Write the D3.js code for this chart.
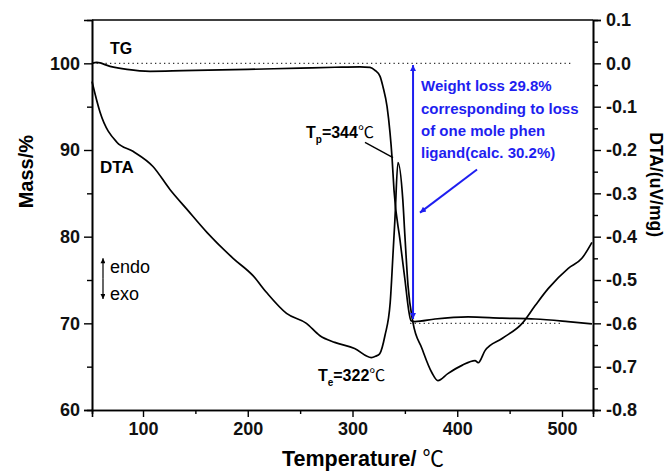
<!DOCTYPE html>
<html>
<head>
<meta charset="utf-8">
<script src="https://cdn.jsdelivr.net/npm/d3@7"></script>
<style>
  body { margin: 0; background: #fff; }
  svg text { font-family: "Liberation Sans", Arial, sans-serif; }
</style>
</head>
<body>
<svg id="chart"></svg>
<script>
//// DATA

// TG curve (mass %, left axis)
const tgTemp = [51.3, 55.9, 68.5, 84.7, 106.7, 138.2, 200, 250, 283.3, 307, 316.7, 321.5, 326.3, 329.1, 333, 335.8, 337.7, 339.6, 345.3, 350.1, 353.9, 355.8, 359.6, 378.8, 410.3, 442.7, 474.2, 505.7, 528.6];
const tgMass = [100, 100.1, 99.65, 99.3, 99.08, 99.15, 99.3, 99.45, 99.55, 99.6, 99.54, 99.2, 98.5, 97.3, 95.0, 92.0, 89.2, 85.4, 79.65, 75.0, 71.3, 70.3, 70.2, 70.5, 70.75, 70.6, 70.5, 70.2, 69.94];

// DTA curve (uV/mg, right axis)
const dtaTemp = [51.3, 59, 75, 90.4, 109.5, 125.7, 142, 161, 186, 205, 218, 237, 256, 268.6, 283, 302, 318, 322, 326, 331, 336, 338.6, 340.5, 343.4, 348, 350, 353, 357.7, 366.3, 375.8, 381.5, 391, 404.5, 417, 420, 426.5, 442.8, 462, 474.4, 486.8, 506, 519, 528.6];
const dtaValue = [-0.042, -0.113, -0.182, -0.203, -0.238, -0.291, -0.337, -0.39, -0.45, -0.49, -0.529, -0.577, -0.6, -0.628, -0.644, -0.658, -0.679, -0.676, -0.67, -0.628, -0.552, -0.443, -0.36, -0.229, -0.314, -0.397, -0.513, -0.598, -0.658, -0.714, -0.732, -0.716, -0.697, -0.686, -0.691, -0.663, -0.635, -0.6, -0.559, -0.52, -0.473, -0.45, -0.413];

// dotted baselines (mass, start temp, end temp)
const baseMass = [100, 70];
const baseFrom = [51.3, 355];
const baseTo = [509, 500];

// ticks
const tempTicks = [100, 200, 300, 400, 500];
const tempMinor = [150, 250, 350, 450];
const massTicks = [60, 70, 80, 90, 100];
const massMinor = [65, 75, 85, 95];
const dtaTicks = [-0.8, -0.7, -0.6, -0.5, -0.4, -0.3, -0.2, -0.1, 0.0, 0.1];
const dtaMinor = [-0.75, -0.65, -0.55, -0.45, -0.35, -0.25, -0.15, -0.05, 0.05];

// weight loss annotation (temp, mass from, mass to)
const lossTemp = 357.8;
const lossMass = [99.8, 70.5];
const lossText = ["Weight loss 29.8%", "corresponding to loss", "of one mole phen", "ligand(calc. 30.2%)"];

//// SETUP

const width = 669;
const height = 472;
const margin = { top: 20, right: 76, bottom: 62, left: 92 };
const blue = "#1e1ef0";

const svg = d3.select("#chart").attr("width", width).attr("height", height);

const x = d3.scaleLinear().domain([51.3, 529.6]).range([margin.left, width - margin.right]);
const yMass = d3.scaleLinear().domain([60, 105]).range([height - margin.bottom, margin.top]);
const yDta = d3.scaleLinear().domain([-0.8, 0.1]).range([height - margin.bottom, margin.top]);

const defs = svg.append("defs");
function arrowMarker(id, color, w, h) {
    defs.append("marker")
        .attr("id", id)
        .attr("viewBox", "0 0 10 10")
        .attr("refX", 10).attr("refY", 5)
        .attr("markerWidth", w).attr("markerHeight", h)
        .attr("markerUnits", "userSpaceOnUse")
        .attr("orient", "auto-start-reverse")
        .append("path")
        .attr("d", "M0,0 L10,5 L0,10 Z")
        .attr("fill", color);
}
arrowMarker("blueArrow", blue, 9, 6);
arrowMarker("blackArrow", "#000", 7, 5);

//// AXES

const tickFont = "18px";

// bottom
svg.append("g")
    .attr("transform", `translate(0,${height - margin.bottom})`)
    .call(d3.axisBottom(x).tickValues(tempTicks).tickSize(7).tickPadding(5).tickFormat(d3.format("d")));
svg.append("g")
    .attr("transform", `translate(0,${height - margin.bottom})`)
    .call(d3.axisBottom(x).tickValues(tempMinor).tickSize(4).tickFormat(""));

// left
svg.append("g")
    .attr("transform", `translate(${margin.left},0)`)
    .call(d3.axisLeft(yMass).tickValues(massTicks).tickSize(8).tickPadding(4).tickFormat(d3.format("d")));
svg.append("g")
    .attr("transform", `translate(${margin.left},0)`)
    .call(d3.axisLeft(yMass).tickValues(massMinor).tickSize(5).tickFormat(""));

// right
const yAxisR = svg.append("g")
    .attr("transform", `translate(${width - margin.right},0)`)
    .call(d3.axisRight(yDta).tickValues(dtaTicks).tickSize(8).tickPadding(5).tickFormat(d3.format(".1f")));
svg.append("g")
    .attr("transform", `translate(${width - margin.right},0)`)
    .call(d3.axisRight(yDta).tickValues(dtaMinor).tickSize(5).tickFormat(""));

svg.selectAll(".domain").attr("stroke", "#000").attr("stroke-width", 1.6);
svg.selectAll(".tick line").attr("stroke", "#000").attr("stroke-width", 1.4);
svg.selectAll(".tick text")
    .attr("fill", "#111")
    .style("font-size", tickFont)
    .style("font-weight", "bold")
    .style("font-family", "'Liberation Sans', Arial, sans-serif");
// plain hyphen for negatives, like the original
yAxisR.selectAll(".tick text").text(d => d3.format(".1f")(d).replace("−", "-"));

// top border
svg.append("line")
    .attr("x1", margin.left).attr("x2", width - margin.right)
    .attr("y1", margin.top).attr("y2", margin.top)
    .attr("stroke", "#000").attr("stroke-width", 1.6);

// axis titles
svg.append("text")
    .attr("transform", `translate(33,${yMass(87.5)}) rotate(-90)`)
    .attr("text-anchor", "middle")
    .style("font-size", "20px").style("font-weight", "bold")
    .text("Mass/%");

svg.append("text")
    .attr("transform", `translate(650,${yDta(-0.28)}) rotate(90)`)
    .attr("text-anchor", "middle")
    .style("font-size", "17.5px").style("font-weight", "bold")
    .text("DTA/(uV/mg)");

const xTitle = svg.append("text")
    .attr("x", x(310)).attr("y", 466)
    .attr("text-anchor", "middle")
    .style("font-size", "21.5px").style("font-weight", "bold");
xTitle.append("tspan").text("Temperature/ ");
xTitle.append("tspan").style("font-family", "'Noto Sans CJK SC'").style("font-weight", "normal").text("℃");

//// CURVES

const tgLine = d3.line()
    .x((d, i) => x(tgTemp[i]))
    .y(d => yMass(d))
    .curve(d3.curveMonotoneX);

const dtaLine = d3.line()
    .x((d, i) => x(dtaTemp[i]))
    .y(d => yDta(d))
    .curve(d3.curveMonotoneX);

svg.selectAll(".baseline")
    .data(baseMass)
    .enter()
    .append("line")
    .attr("class", "baseline")
    .attr("x1", (d, i) => x(baseFrom[i]))
    .attr("x2", (d, i) => x(baseTo[i]))
    .attr("y1", d => yMass(d))
    .attr("y2", d => yMass(d))
    .attr("stroke", "#333")
    .attr("stroke-width", 1.3)
    .attr("stroke-dasharray", "1.3,3.2");

svg.append("path")
    .datum(tgMass)
    .attr("d", tgLine)
    .attr("fill", "none")
    .attr("stroke", "#000")
    .attr("stroke-width", 1.7);

svg.append("path")
    .datum(dtaValue)
    .attr("d", dtaLine)
    .attr("fill", "none")
    .attr("stroke", "#000")
    .attr("stroke-width", 1.7);

//// ANNOTATIONS

svg.append("text")
    .attr("x", x(68.5)).attr("y", yMass(101.04))
    .style("font-size", "16px").style("font-weight", "bold")
    .text("TG");

svg.append("text")
    .attr("x", x(59)).attr("y", yMass(87.4))
    .style("font-size", "17px").style("font-weight", "bold")
    .text("DTA");

// endo / exo
svg.append("line")
    .attr("x1", x(61.8)).attr("x2", x(61.8))
    .attr("y1", yMass(75.2)).attr("y2", yMass(77.5))
    .attr("stroke", "#000").attr("stroke-width", 1.2)
    .attr("marker-end", "url(#blackArrow)");
svg.append("line")
    .attr("x1", x(61.8)).attr("x2", x(61.8))
    .attr("y1", yMass(75.2)).attr("y2", yMass(72.8))
    .attr("stroke", "#000").attr("stroke-width", 1.2)
    .attr("marker-end", "url(#blackArrow)");
svg.append("text")
    .attr("x", x(68.5)).attr("y", yMass(75.84))
    .style("font-size", "18px")
    .text("endo");
svg.append("text")
    .attr("x", x(68.5)).attr("y", yMass(72.7))
    .style("font-size", "18px")
    .text("exo");

// peak temperatures
function tempLabel(t, m, sub, val) {
    const txt = svg.append("text")
        .attr("x", x(t)).attr("y", yMass(m))
        .style("font-size", "16px").style("font-weight", "bold");
    txt.append("tspan").text("T");
    txt.append("tspan").attr("dy", 5).style("font-size", "10px").text(sub);
    txt.append("tspan").attr("dy", -5).text("=" + val);
    txt.append("tspan").style("font-family", "'Noto Sans CJK SC'").style("font-weight", "normal").text("℃");
}
tempLabel(255.6, 91.33, "p", 344);
tempLabel(267, 63.35, "e", 322);

svg.append("line")
    .attr("x1", x(311.9)).attr("y1", yMass(90.87))
    .attr("x2", x(338.7)).attr("y2", yMass(89.13))
    .attr("stroke", "#000").attr("stroke-width", 1.4);

// weight loss arrow and text
svg.append("line")
    .attr("x1", x(lossTemp)).attr("x2", x(lossTemp))
    .attr("y1", yMass(lossMass[1])).attr("y2", yMass(lossMass[0]))
    .attr("stroke", blue).attr("stroke-width", 2)
    .attr("marker-start", "url(#blueArrow)")
    .attr("marker-end", "url(#blueArrow)");

svg.append("line")
    .attr("x1", x(418.9)).attr("y1", yMass(87.75))
    .attr("x2", x(364.4)).attr("y2", yMass(82.77))
    .attr("stroke", blue).attr("stroke-width", 2)
    .attr("marker-end", "url(#blueArrow)");

svg.selectAll(".lossText")
    .data(lossText)
    .enter()
    .append("text")
    .attr("class", "lossText")
    .attr("x", x(365.4))
    .attr("y", (d, i) => yMass(96.76) + i * 22.3)
    .attr("fill", blue)
    .style("font-size", "15px").style("font-weight", "bold")
    .text(d => d);
</script>
</body>
</html>
